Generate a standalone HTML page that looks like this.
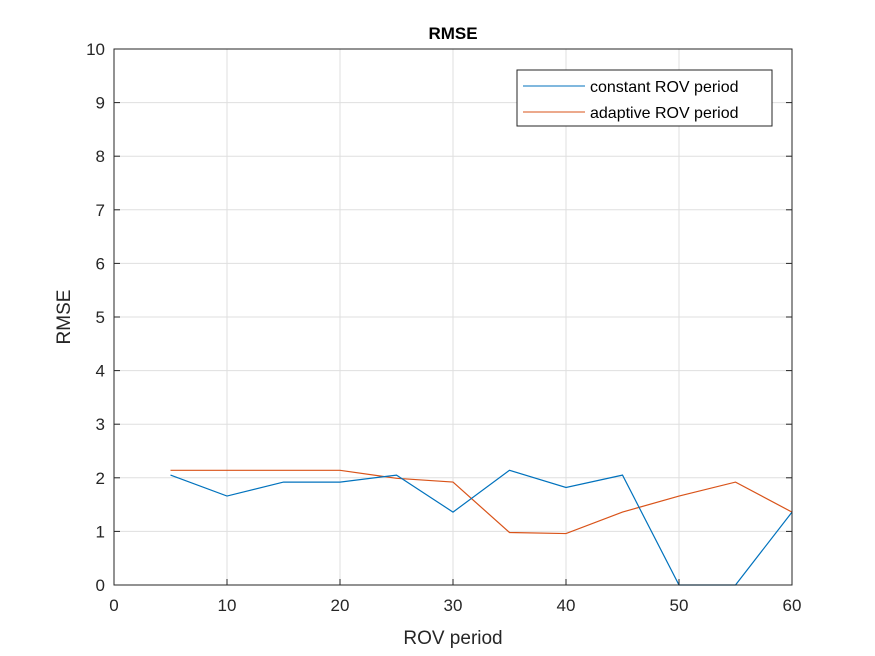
<!DOCTYPE html>
<html><head><meta charset="utf-8"><style>
body{margin:0;background:#fff;}
svg{display:block;font-family:"Liberation Sans",Arial,sans-serif;}
</style></head><body>
<svg id="chart" width="875" height="656">
<rect x="0" y="0" width="875" height="656" fill="#fff"/>
<rect x="114" y="49" width="678" height="536" fill="#fff"/>
<g id="grid"></g>
<g id="series"></g>
<rect x="114" y="49" width="678" height="536" fill="none" stroke="#262626" stroke-width="1"/>
<g id="ticks"></g>
<text x="453" y="39" text-anchor="middle" font-size="17" font-weight="bold" fill="#000">RMSE</text>
<text x="453" y="644" text-anchor="middle" font-size="19" fill="#262626">ROV period</text>
<text transform="translate(70,317) rotate(-90)" text-anchor="middle" font-size="19" fill="#262626">RMSE</text>
<g>
<rect x="517" y="70" width="255" height="56" fill="#fff" stroke="#262626" stroke-width="1"/>
<line x1="523" y1="86" x2="585" y2="86" stroke="#0072BD" stroke-width="1"/>
<text x="590" y="92" font-size="16" fill="#000">constant ROV period</text>
<line x1="523" y1="112" x2="585" y2="112" stroke="#D95319" stroke-width="1"/>
<text x="590" y="118" font-size="16" fill="#000">adaptive ROV period</text>
</g>
</svg>
<script>
const xValues=[5,10,15,20,25,30,35,40,45,50,55,60];
const constantValues=[2.05,1.66,1.92,1.92,2.05,1.36,2.14,1.82,2.05,0,0,1.36];
const adaptiveValues=[2.14,2.14,2.14,2.14,1.99,1.92,0.98,0.96,1.36,1.66,1.92,1.36];
const xTicks=[0,10,20,30,40,50,60];
const yTicks=[0,1,2,3,4,5,6,7,8,9,10];
const NS="http://www.w3.org/2000/svg";
function xs(v){return 114+v/60*678;}
function ys(v){return 585-v/10*536;}
function mk(tag,attrs,parent){const e=document.createElementNS(NS,tag);for(const k in attrs)e.setAttribute(k,attrs[k]);parent.appendChild(e);return e;}
const grid=document.getElementById('grid'),ticks=document.getElementById('ticks'),series=document.getElementById('series');
xTicks.forEach(t=>{
  const g=mk('line',{x1:xs(t),x2:xs(t),y1:49,y2:585,stroke:'#dfdfdf','stroke-width':1},grid);
  
  
  const tk=mk('line',{x1:xs(t),x2:xs(t),y1:585,y2:579,stroke:'#262626'},ticks);
  
  
  const tx=mk('text',{x:xs(t),y:611,'text-anchor':'middle','font-size':17,fill:'#262626'},ticks);
  tx.textContent=t;
  
  
});
yTicks.forEach(t=>{
  const g=mk('line',{x1:114,x2:792,y1:ys(t),y2:ys(t),stroke:'#dfdfdf','stroke-width':1},grid);
  
  
  const tk=mk('line',{x1:114,x2:120,y1:ys(t),y2:ys(t),stroke:'#262626'},ticks);
  
  
  const tk2=mk('line',{x1:786,x2:792,y1:ys(t),y2:ys(t),stroke:'#262626'},ticks);
  
  
  const tx=mk('text',{x:105,y:ys(t)+6,'text-anchor':'end','font-size':17,fill:'#262626'},ticks);
  tx.textContent=t;
  
  
});
function line(vals,color,name){
  const p=mk('polyline',{points:vals.map((v,i)=>xs(xValues[i])+','+ys(v)).join(' '),fill:'none',stroke:color,'stroke-width':1.2},series);
  
  
}
line(adaptiveValues,'#D95319','adaptive-rov-line');
line(constantValues,'#0072BD','constant-rov-line');
</script>
</body></html>
